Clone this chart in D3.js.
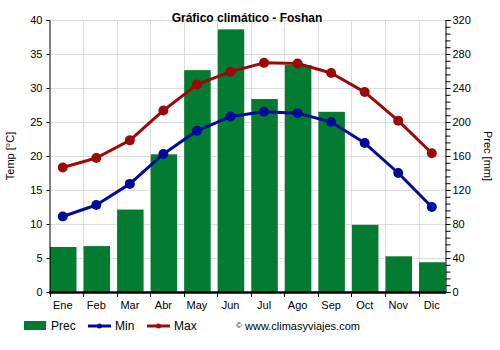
<!DOCTYPE html>
<html><head><meta charset="utf-8">
<script src="https://cdn.jsdelivr.net/npm/d3@7"></script>
<style>body{margin:0;background:#fff}svg{display:block;font-family:"Liberation Sans",Arial,sans-serif}</style>
</head><body><svg id="c" width="500" height="350"></svg>
<script>
const months = ["Ene","Feb","Mar","Abr","May","Jun","Jul","Ago","Sep","Oct","Nov","Dic"];
const prec = [53,54,97,162,261,309,227,267,212,79,42,35];
const tmin = [11.1,12.8,15.9,20.3,23.7,25.8,26.5,26.3,25.0,21.9,17.5,12.5];
const tmax = [18.3,19.7,22.3,26.7,30.5,32.4,33.7,33.6,32.2,29.4,25.2,20.4];
const tempTicks = [0,5,10,15,20,25,30,35,40];
const precTicks = [0,40,80,120,160,200,240,280,320];

const svg = d3.select("#c");
const L = 49.5, R = 445.5, T = 20, B = 292;
const step = 33.55;
const x = d3.scaleBand().domain(months).range([L, L + step*12]).padding(0);
const yT = d3.scaleLinear().domain([0,40]).range([B,T]);
const yP = d3.scaleLinear().domain([0,320]).range([B,T]);
const bw = 26.5;
const cx = m => x(m) + bw/2;

// grid
const g = svg.append("g");
g.selectAll(".hg").data(tempTicks).enter().append("line")
  .attr("x1",L).attr("x2",R).attr("y1",d=>Math.round(yT(d))+0.5).attr("y2",d=>Math.round(yT(d))+0.5)
  .attr("stroke","#dcdcdc").attr("stroke-width",1);
g.selectAll(".vg").data(months.slice(1)).enter().append("line")
  .attr("x1",d=>Math.round(x(d))+0.5).attr("x2",d=>Math.round(x(d))+0.5).attr("y1",T).attr("y2",B)
  .attr("stroke","#dcdcdc").attr("stroke-width",1);

// bars
svg.append("g").selectAll("rect").data(prec).enter().append("rect")
  .attr("x",(d,i)=>x(months[i])+0.5)
  .attr("width",(d,i)=>Math.min(bw, R - x(months[i]) - 0.5))
  .attr("y",d=>yP(d)).attr("height",d=>B-yP(d))
  .attr("fill","#037c31");

// lines
function series(data,color){
  const line = d3.line().x((d,i)=>cx(months[i])).y(d=>yT(d));
  svg.append("path").datum(data).attr("d",line).attr("fill","none").attr("stroke",color).attr("stroke-width",3).attr("stroke-linejoin","round");
  svg.append("g").selectAll("circle").data(data).enter().append("circle")
    .attr("cx",(d,i)=>cx(months[i])).attr("cy",d=>yT(d)).attr("r",5).attr("fill",color);
}
series(tmax,"#9b0a0a");
series(tmin,"#020a9a");

// left axis
const la = svg.append("g").attr("transform",`translate(${L},0)`)
  .call(d3.axisLeft(yT).tickValues(tempTicks).tickSize(3).tickPadding(4));
la.select(".domain").attr("stroke","#000");
la.selectAll("text").attr("font-size",11).attr("fill","#000").attr("font-family","Liberation Sans, Arial");

// right axis
const ra = svg.append("g").attr("transform",`translate(${R},0)`)
  .call(d3.axisRight(yP).tickValues(d3.range(0,321,8)).tickSize(5).tickPadding(2)
    .tickFormat(d=> d%40===0 ? d : ""));
ra.select(".domain").attr("stroke","#000");
ra.selectAll("text").attr("font-size",11).attr("fill","#000").attr("font-family","Liberation Sans, Arial");

// bottom axis
const ba = svg.append("g").attr("transform",`translate(0,${B})`)
  .call(d3.axisBottom(x).tickSize(0).tickPadding(9));
ba.select(".domain").remove();
ba.selectAll("text").attr("font-size",11).attr("fill","#000").attr("font-family","Liberation Sans, Arial")
  .attr("transform",`translate(${bw/2 - step/2},0)`);
svg.append("g").selectAll("line").data(months).enter().append("line")
  .attr("x1",d=>Math.round(x(d))+0.5).attr("x2",d=>Math.round(x(d))+0.5).attr("y1",B).attr("y2",B+5)
  .attr("stroke","#000");
svg.append("line").attr("x1",L-0.5).attr("x2",R+0.5).attr("y1",B+0.5).attr("y2",B+0.5).attr("stroke","#000").attr("stroke-width",2.5);

// titles
svg.append("text").attr("x",247).attr("y",22).attr("text-anchor","middle")
  .attr("font-size",12).attr("font-weight","bold").text("Gráfico climático - Foshan");
svg.append("text").attr("transform","translate(14,156) rotate(-90)").attr("text-anchor","middle")
  .attr("font-size",11).text("Temp [°C]");
svg.append("text").attr("transform","translate(484,156) rotate(90)").attr("text-anchor","middle")
  .attr("font-size",11).text("Prec [mm]");

// legend
const lg = svg.append("g").attr("font-size",12);
lg.append("rect").attr("x",24).attr("y",321).attr("width",22).attr("height",9).attr("fill","#037c31");
lg.append("text").attr("x",51).attr("y",330).text("Prec");
lg.append("line").attr("x1",88).attr("x2",111).attr("y1",326).attr("y2",326).attr("stroke","#020a9a").attr("stroke-width",3);
lg.append("circle").attr("cx",99.5).attr("cy",326).attr("r",2.5).attr("fill","#020a9a");
lg.append("text").attr("x",115).attr("y",330).text("Min");
lg.append("line").attr("x1",147).attr("x2",170).attr("y1",326).attr("y2",326).attr("stroke","#9b0a0a").attr("stroke-width",3);
lg.append("circle").attr("cx",158.5).attr("cy",326).attr("r",2.5).attr("fill","#9b0a0a");
lg.append("text").attr("x",174).attr("y",330).text("Max");
lg.append("text").attr("x",236).attr("y",328).attr("font-size",8).text("©");
lg.append("text").attr("x",245).attr("y",330).attr("font-size",11).text("www.climasyviajes.com");
</script></body></html>
